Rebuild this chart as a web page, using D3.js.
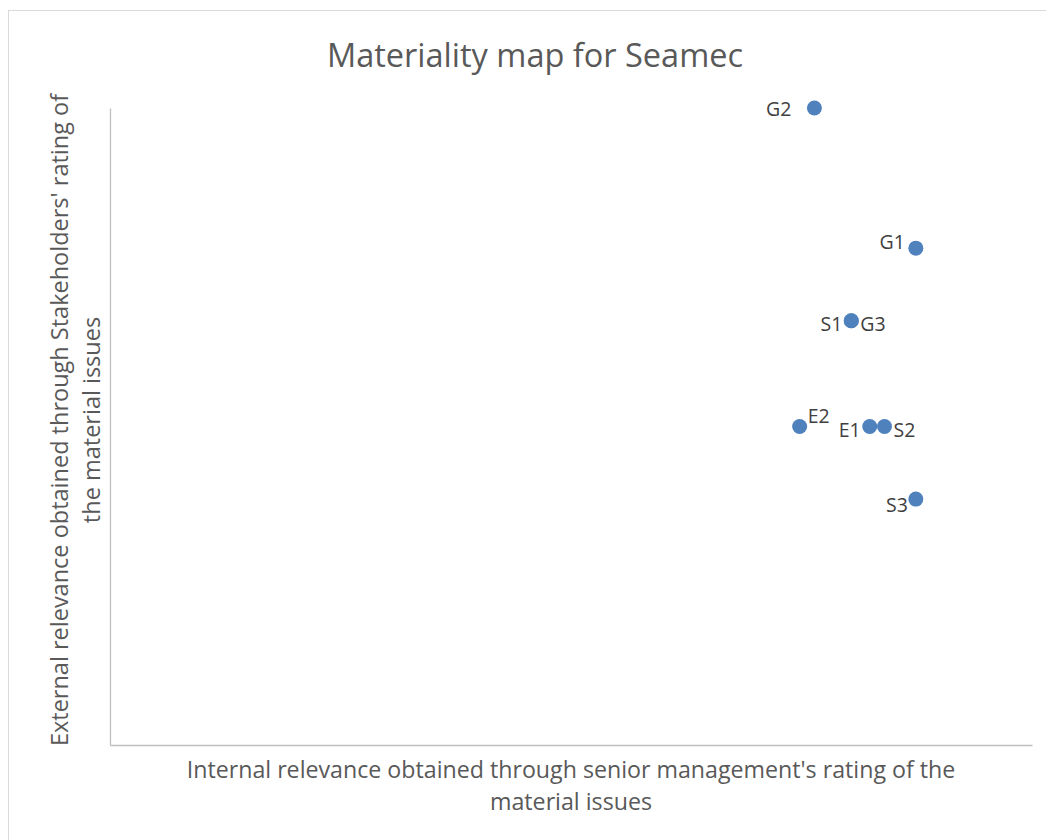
<!DOCTYPE html>
<html>
<head>
<meta charset="utf-8">
<script src="https://cdn.jsdelivr.net/npm/d3@7"></script>
<style>
  body { margin: 0; background: #fff; }
  text { font-family: "Open Sans", sans-serif; }
</style>
</head>
<body>
<svg id="viz" width="1046" height="840"></svg>
<script>
// materiality issues
var labels = ['G2', 'G1', 'S1', 'G3', 'E2', 'E1', 'S2', 'S3']
var internalScore = [3.82, 4.37, 4.02, 4.02, 3.74, 4.12, 4.20, 4.37]
var externalScore = [5.0, 3.9, 3.33, 3.33, 2.5, 2.5, 2.5, 1.93]
// where the label sits relative to the dot
var labelSide = ['leftFar', 'leftUp', 'left', 'right', 'rightUp', 'left', 'right', 'leftDown']

var plotLeft = 110, plotRight = 1032, plotTop = 108, plotBottom = 745

var svg = d3.select('svg#viz')

svg.append('rect')
  .attr('x', 8.5).attr('y', 10.5)
  .attr('width', 1060).attr('height', 860)
  .attr('fill', 'none')
  .attr('stroke', '#d9d9d9')

var x = d3.scaleLinear().domain([0, 5]).range([plotLeft, plotRight])
var y = d3.scaleLinear().domain([0, 5]).range([plotBottom, plotTop])

// axes without ticks
svg.append('g')
  .attr('transform', `translate(0,${plotBottom})`)
  .call(d3.axisBottom(x).ticks(0).tickSizeOuter(0))
  .call(g => g.select('.domain').attr('stroke', '#bfbfbf').attr('stroke-width', 1.3))

svg.append('g')
  .attr('transform', `translate(${plotLeft},0)`)
  .call(d3.axisLeft(y).ticks(0).tickSizeOuter(0))
  .call(g => g.select('.domain').attr('stroke', '#bfbfbf').attr('stroke-width', 1.3))

svg.append('text')
  .attr('x', 535).attr('y', 67)
  .attr('text-anchor', 'middle')
  .attr('font-size', 32.5)
  .attr('fill', '#595959')
  .text('Materiality map for Seamec')

var xt = svg.append('text')
  .attr('text-anchor', 'middle')
  .attr('font-size', 23.2)
  .attr('fill', '#595959')
xt.append('tspan').attr('x', 571).attr('y', 778)
  .text("Internal relevance obtained through senior management's rating of the")
xt.append('tspan').attr('x', 571).attr('y', 810)
  .text('material issues')

var yt = svg.append('text')
  .attr('transform', 'translate(0,420) rotate(-90)')
  .attr('text-anchor', 'middle')
  .attr('font-size', 23.5)
  .attr('fill', '#595959')
yt.append('tspan').attr('x', 0).attr('y', 68)
  .text("External relevance obtained through Stakeholders' rating of")
yt.append('tspan').attr('x', 0).attr('y', 100)
  .text('the material issues')

var points = labels.map((d, i) => ({
  label: d, ix: internalScore[i], ex: externalScore[i], side: labelSide[i]
}))

svg.append('g')
  .selectAll('circle')
  .data(points)
  .join('circle')
    .attr('cx', d => x(d.ix))
    .attr('cy', d => y(d.ex))
    .attr('r', 7.5)
    .attr('fill', '#4f81bd')

var offsets = {
  left: [-9, 10, 'end'],
  leftFar: [-23, 8, 'end'],
  right: [9, 10, 'start'],
  leftUp: [-11, 1, 'end'],
  rightUp: [8, -4, 'start'],
  leftDown: [-8, 13, 'end']
}

svg.append('g')
  .selectAll('text')
  .data(points)
  .join('text')
    .attr('x', d => x(d.ix) + offsets[d.side][0])
    .attr('y', d => y(d.ex) + offsets[d.side][1])
    .attr('text-anchor', d => offsets[d.side][2])
    .attr('font-size', 19.5)
    .attr('fill', '#404040')
    .text(d => d.label)
</script>
</body>
</html>
